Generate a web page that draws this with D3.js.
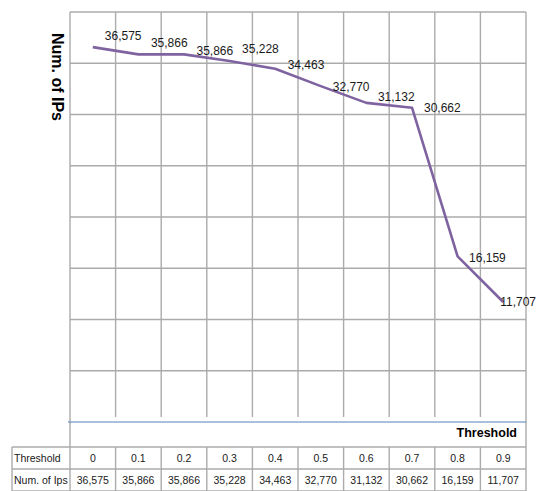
<!DOCTYPE html>
<html>
<head>
<meta charset="utf-8">
<script src="https://cdn.jsdelivr.net/npm/d3@7"></script>
<style>
  body { margin: 0; background: #fff; }
  .num-label { font-family: "Liberation Sans Narrow", "Liberation Sans", Arial, sans-serif; font-size: 12px; fill: #1a1a1a; }
  .cell-label { font-family: "Liberation Sans Narrow", "Liberation Sans", Arial, sans-serif; font-size: 10.5px; fill: #1a1a1a; }
  .row-head { font-family: "Liberation Sans", Arial, sans-serif; font-size: 10.5px; fill: #1a1a1a; }
  .axis-title { font-family: "Liberation Sans", Arial, sans-serif; font-weight: bold; fill: #000; }
</style>
</head>
<body>
<div id="chart"></div>
<script>
// chart data
const thresholds = ["0", "0.1", "0.2", "0.3", "0.4", "0.5", "0.6", "0.7", "0.8", "0.9"];
const numIPs = [36575, 35866, 35866, 35228, 34463, 32770, 31132, 30662, 16159, 11707];
const yTickStep = 5000;
const yMaxValue = 40000;
// label nudges (dx, dy) as placed in the original
const labelDx = [12, 12.5, 12.5, 12.5, 12.5, 12, 11.5, 12, 11.5, -3];
const labelDy = [-11, -11, -3, -12, -4, 1, -6, 0, 2, 0];

const chart = {
    width: 537,
    height: 491,
    plotLeft: 70,
    plotRight: 526,
    plotTop: 12,
    plotBottom: 422,
    tableTop: 447,
    rowHeight: 22,
    tableLeft: 12
};

const svg = d3.select("#chart")
    .append("svg")
    .attr("width", chart.width)
    .attr("height", chart.height);

const data = thresholds.map((t, i) => ({ t: t, v: numIPs[i], dx: labelDx[i], dy: labelDy[i] }));

// x: one band per threshold, y: linear count scale
const x = d3.scaleBand()
    .domain(thresholds)
    .range([chart.plotLeft, chart.plotRight]);
const y = d3.scaleLinear()
    .domain([0, yMaxValue])
    .range([chart.plotBottom, chart.plotTop]);

const gridColor = "#ababab";

// horizontal gridlines (above zero)
const yTicks = d3.range(yTickStep, yMaxValue + 1, yTickStep);
svg.append("g")
    .selectAll("line")
    .data(yTicks)
    .enter()
    .append("line")
    .attr("x1", chart.plotLeft)
    .attr("x2", chart.plotRight)
    .attr("y1", d => y(d))
    .attr("y2", d => y(d))
    .attr("stroke", gridColor)
    .attr("stroke-width", 1.4);

// vertical gridlines at band edges
const edges = thresholds.map(t => x(t)).concat([x.range()[1]]);
svg.append("g")
    .selectAll("line")
    .data(edges)
    .enter()
    .append("line")
    .attr("x1", d => d)
    .attr("x2", d => d)
    .attr("y1", chart.plotTop)
    .attr("y2", (d, i) => (i === 0 || i === edges.length - 1) ? chart.tableTop : chart.plotBottom - 5)
    .attr("stroke", gridColor)
    .attr("stroke-width", 1.4);

// zero axis line
svg.append("line")
    .attr("x1", chart.plotLeft - 2)
    .attr("x2", chart.plotRight)
    .attr("y1", y(0))
    .attr("y2", y(0))
    .attr("stroke", "#4f81bd")
    .attr("stroke-width", 1.2);

// the series line
const line = d3.line()
    .x(d => x(d.t) + x.bandwidth() / 2)
    .y(d => y(d.v));

svg.append("path")
    .datum(data)
    .attr("d", line)
    .attr("fill", "none")
    .attr("stroke", "#7f63a1")
    .attr("stroke-width", 2.6)
    .attr("stroke-linejoin", "round");

// data labels
svg.append("g")
    .selectAll("text")
    .data(data)
    .enter()
    .append("text")
    .classed("num-label", true)
    .attr("x", d => x(d.t) + x.bandwidth() / 2 + d.dx)
    .attr("y", d => y(d.v) + d.dy)
    .attr("dominant-baseline", "central")
    .text(d => d3.format(",")(d.v));

// axis titles
svg.append("text")
    .classed("axis-title", true)
    .style("font-size", "16px")
    .attr("text-anchor", "middle")
    .attr("dominant-baseline", "central")
    .attr("transform", `translate(57, 77) rotate(90)`)
    .text("Num. of IPs");

svg.append("text")
    .classed("axis-title", true)
    .style("font-size", "12.5px")
    .attr("text-anchor", "end")
    .attr("x", 517)
    .attr("y", 437)
    .text("Threshold");

// data table
const tableRows = [
    { head: "Threshold", cells: thresholds },
    { head: "Num. of Ips", cells: numIPs.map(d3.format(",")) }
];
const table = svg.append("g");

tableRows.forEach((row, r) => {
    const top = chart.tableTop + r * chart.rowHeight;
    table.append("line")
        .attr("x1", chart.tableLeft).attr("x2", chart.plotRight)
        .attr("y1", top).attr("y2", top)
        .attr("stroke", gridColor).attr("stroke-width", 1.4);
    table.append("text")
        .classed("row-head", true)
        .attr("x", chart.tableLeft + 2)
        .attr("y", top + chart.rowHeight / 2)
        .attr("dominant-baseline", "central")
        .text(row.head);
    table.selectAll(null)
        .data(row.cells)
        .enter()
        .append("text")
        .classed("cell-label", true)
        .attr("text-anchor", "middle")
        .attr("x", (d, i) => x(thresholds[i]) + x.bandwidth() / 2)
        .attr("y", top + chart.rowHeight / 2)
        .attr("dominant-baseline", "central")
        .text(d => d);
});
const tableBottom = chart.tableTop + tableRows.length * chart.rowHeight;
table.append("line")
    .attr("x1", chart.tableLeft).attr("x2", chart.plotRight)
    .attr("y1", tableBottom).attr("y2", tableBottom)
    .attr("stroke", gridColor).attr("stroke-width", 1.4);
table.selectAll(null)
    .data([chart.tableLeft].concat(edges))
    .enter()
    .append("line")
    .attr("x1", d => d).attr("x2", d => d)
    .attr("y1", chart.tableTop).attr("y2", tableBottom)
    .attr("stroke", gridColor).attr("stroke-width", 1.4);
</script>
</body>
</html>
